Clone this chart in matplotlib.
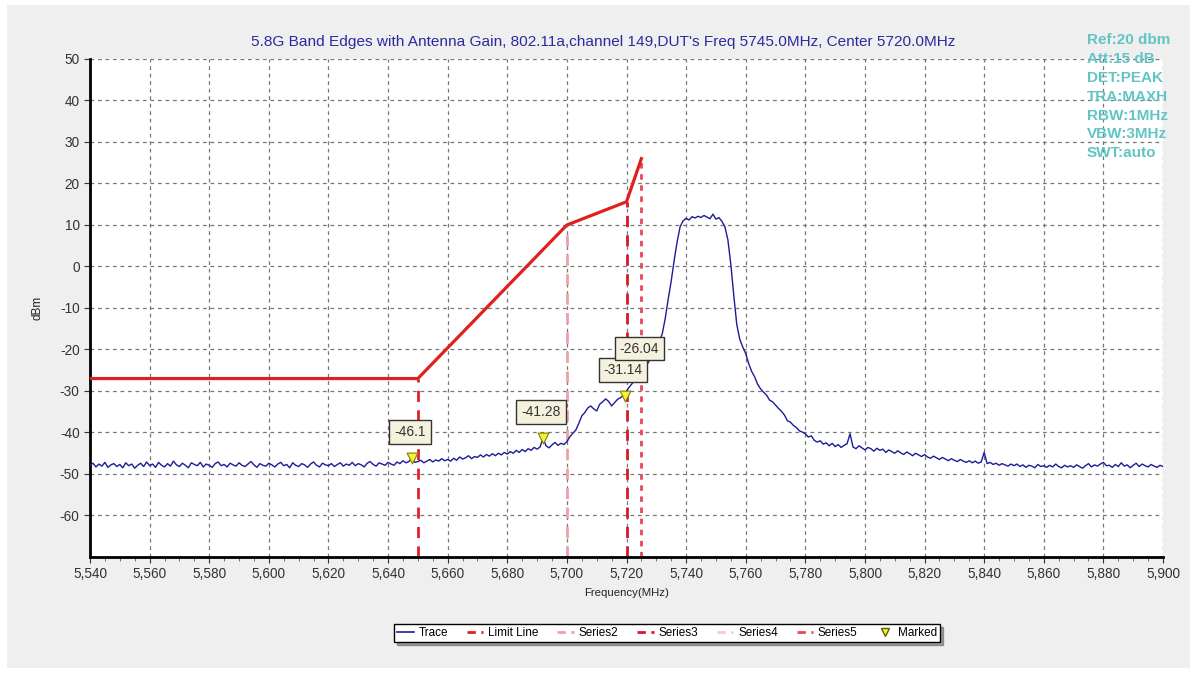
import numpy as np
import matplotlib
matplotlib.use('Agg')
import matplotlib.pyplot as plt
from matplotlib.lines import Line2D
from matplotlib.patches import Rectangle
from matplotlib.ticker import FuncFormatter, MultipleLocator

plt.rcParams['font.family'] = ['Liberation Sans', 'DejaVu Sans']
plt.rcParams['axes.unicode_minus'] = False

# spectrum trace, 1 MHz steps from 5540 to 5900 MHz
trace_start = 5540
trace_level = [
    -47.9, -47.4, -48.3, -47.6, -48.1, -47.2, -48.4, -47.8, -47.5, -48.2,
    -47.7, -48.5, -47.3, -48.0, -47.6, -48.6, -47.9, -47.4, -48.2, -47.1,
    -48.0, -47.6, -48.4, -47.2, -47.9, -48.3, -47.5, -48.1, -46.9, -47.8,
    -48.2, -47.4, -47.9, -48.5, -47.3, -47.7, -48.0, -47.2, -48.3, -47.6,
    -47.9, -48.4, -47.5, -47.1, -48.0, -47.7, -48.3, -47.4, -47.8, -48.1,
    -47.3, -47.9, -48.2, -47.6, -47.0, -47.8, -48.4, -47.5, -47.9, -48.1,
    -47.4, -47.8, -48.3, -47.6, -47.2, -48.0, -47.7, -48.5, -47.3, -47.9,
    -48.2, -47.5, -47.8, -48.4, -47.6, -47.1, -47.9, -48.3, -47.4, -47.8,
    -48.0, -47.5, -48.2, -47.7, -47.3, -48.1, -47.6, -47.9, -47.2, -48.0,
    -47.5, -47.8, -48.3, -47.4, -47.0, -47.7, -48.1, -47.3, -47.6, -47.9,
    -47.2, -47.6, -47.9, -47.1, -47.5, -46.8, -47.3, -47.0, -46.1, -47.2,
    -47.0, -46.7, -47.3, -46.9, -46.5, -47.1, -46.6, -46.9, -46.3, -46.8,
    -46.5, -46.9, -46.2, -46.7, -45.9, -46.4, -46.1, -45.6, -46.3, -45.8,
    -46.0, -45.4, -45.9, -45.3, -45.7, -45.1, -45.6, -45.0, -45.4, -44.8,
    -45.2, -44.6, -45.0, -44.3, -44.8, -44.1, -44.6, -43.9, -44.3, -43.6,
    -44.0, -43.5, -41.3, -43.2, -43.7, -43.0, -42.4, -43.1, -42.6, -42.9,
    -42.2, -41.0, -40.2, -39.4, -37.8, -36.0, -35.2, -34.1, -33.6, -34.3,
    -34.8, -33.2, -32.6, -31.9, -32.5, -33.6, -32.8, -32.0, -31.6, -31.1,
    -30.0, -29.0, -28.1, -27.3, -26.6, -26.0, -24.8, -23.5, -22.3, -21.0,
    -19.6, -18.0, -16.2, -12.5, -7.8, -3.5, 1.5, 6.0, 9.6, 11.0,
    11.6, 11.2, 12.0, 11.7, 12.1, 11.8, 12.3, 11.9, 11.5, 12.6,
    11.4, 11.8, 10.9, 9.6, 6.5, 0.5, -7.0, -14.0, -17.5, -19.4,
    -21.0, -23.4, -25.3, -26.6, -28.4, -29.5, -30.3, -31.0, -32.2, -32.6,
    -33.4, -34.2, -34.9, -35.8, -37.2, -37.5, -38.3, -38.8, -39.6, -39.9,
    -40.3, -41.1, -40.8, -41.9, -42.3, -42.0, -42.8, -42.5, -43.2, -42.6,
    -43.4, -42.9, -43.6, -43.1, -42.7, -40.3, -43.5, -43.9, -43.2, -43.7,
    -44.2, -43.6, -43.9, -44.5, -43.8, -44.3, -44.0, -44.8, -44.2, -44.6,
    -45.0, -44.4, -44.9, -45.3, -44.7, -45.1, -45.6, -45.0, -45.4, -45.8,
    -45.3, -45.9, -46.2, -45.7, -46.1, -46.5, -46.0, -46.4, -46.8, -46.3,
    -46.7, -47.0, -46.5, -46.9, -47.2, -46.8, -47.3, -46.9, -47.4, -47.1,
    -44.8, -47.5, -47.2, -47.7, -47.4, -47.9, -47.5, -47.8, -48.1, -47.6,
    -48.0, -47.6, -48.2, -47.8, -48.4, -47.9, -48.1, -48.5, -47.7, -48.2,
    -48.0, -48.4, -47.9, -48.3, -47.6, -48.2, -48.5, -47.9, -48.3, -48.0,
    -48.4, -47.8, -48.2, -48.6, -48.0, -47.5, -48.3, -47.8, -48.1, -47.6,
    -47.2, -48.0, -47.9, -48.4, -47.7, -48.2, -47.3, -48.1, -47.8, -48.5,
    -47.9, -47.4, -48.2, -47.6, -48.0, -48.3, -47.7, -48.1, -48.4, -47.9,
    -48.2,
]
trace_freq = trace_start + np.arange(len(trace_level))

# limit mask
limit_freq = [5540, 5650, 5700, 5720, 5725]
limit_level = [-27, -27, 10, 15.6, 26]

# vertical edge lines (freq, top level)
edge_freq = [5650, 5700, 5720, 5725]
edge_top = [-27, 10, 15.6, 26]

# markers
marker_freq = [5648, 5692, 5719.5, 5725]
marker_level = [-46.1, -41.28, -31.14, -26.04]
marker_text = ['-46.1', '-41.28', '-31.14', '-26.04']

info_lines = ['Ref:20 dbm', 'Att:15 dB', 'DET:PEAK', 'TRA:MAXH',
              'RBW:1MHz', 'VBW:3MHz', 'SWT:auto']

title = ("5.8G Band Edges with Antenna Gain, 802.11a,channel 149,"
         "DUT's Freq 5745.0MHz, Center 5720.0MHz")

fig = plt.figure(figsize=(11.98, 6.73), dpi=100, facecolor='white')
fig.patches.append(Rectangle((7 / 1198, 1 - 668 / 673), 1183 / 1198, 663 / 673,
                             transform=fig.transFigure, facecolor='#efefef',
                             edgecolor='none', zorder=-10))
ax = fig.add_axes([90 / 1198, 1 - 557 / 673, 1073 / 1198, 498 / 673])
ax.set_facecolor('white')

ax.set_xlim(5540, 5900)
ax.set_ylim(-70, 50)
ax.xaxis.set_major_locator(MultipleLocator(20))
ax.xaxis.set_minor_locator(MultipleLocator(5))
ax.set_yticks(np.arange(-60, 51, 10))
ax.xaxis.set_major_formatter(FuncFormatter(lambda v, p: f'{int(v):,}'))
ax.tick_params(axis='both', labelsize=9.8, colors='#333333', length=4)
ax.tick_params(axis='x', which='minor', length=3, color='#555555')
ax.grid(True, which='major', color='#777777', linestyle=(0, (3, 3)), linewidth=0.9)
for s in ['top', 'right']:
    ax.spines[s].set_visible(False)
for s in ['left', 'bottom']:
    ax.spines[s].set_linewidth(2)
    ax.spines[s].set_color('black')

# edges
edge_colors = ['#e02030', '#f0a0a8', '#d81828', '#e84858']
edge_styles = [(0, (4, 3)), (0, (4, 3)), (0, (4, 3)), (0, (2, 2))]
for f, top, c, ls in zip(edge_freq, edge_top, edge_colors, edge_styles):
    ax.plot([f, f], [-70, top], color=c, linestyle=ls, linewidth=2, zorder=2)

ax.plot(limit_freq, limit_level, color='#e02020', linewidth=2.3, zorder=3)
ax.plot(trace_freq, trace_level, color='#1c1c96', linewidth=1.0, zorder=4)

ax.scatter(marker_freq, marker_level, marker='v', s=60, color='#f5f03a',
           edgecolors='#808000', linewidths=0.8, zorder=5)
for f, lv, t in zip(marker_freq, marker_level, marker_text):
    ax.annotate(t, (f, lv), xytext=(-2, 19), textcoords='offset pixels',
                ha='center', va='bottom', fontsize=10, color='#333333', zorder=6,
                bbox=dict(boxstyle='square,pad=0.35', facecolor='#f4f2dc',
                          edgecolor='#333333', linewidth=1))

ax.set_xlabel('Frequency(MHz)', fontsize=8.2, color='#222222', labelpad=5)
ax.set_ylabel('dBm', fontsize=8.5, color='#222222', labelpad=12)

fig.text(603 / 1198, 1 - 42 / 673, title, ha='center', va='center',
         fontsize=11.1, color='#2b2ba0')

for i, line in enumerate(info_lines):
    fig.text(1087 / 1198, 1 - (40 + i * 18.9) / 673, line, ha='left', va='center',
             fontsize=11, fontweight='bold', color='#62c4c4')

handles = [
    Line2D([], [], color='#1c1c96', linewidth=1.2),
    Line2D([], [], color='#e02020', linestyle=(0, (3, 2)), linewidth=2),
    Line2D([], [], color='#f0a0a8', linestyle=(0, (3, 2)), linewidth=2),
    Line2D([], [], color='#d81828', linestyle=(0, (3, 2)), linewidth=2),
    Line2D([], [], color='#f6c8cc', linestyle=(0, (3, 2)), linewidth=2),
    Line2D([], [], color='#e84858', linestyle=(0, (3, 2)), linewidth=2),
    Line2D([], [], marker='v', color='#f5f03a', markeredgecolor='#606000',
           linestyle='none', markersize=6),
]
labels = ['Trace', 'Limit Line', 'Series2', 'Series3', 'Series4', 'Series5', 'Marked']
leg = fig.legend(handles, labels, loc='center', bbox_to_anchor=(667 / 1198, 1 - 633 / 673),
                 ncol=7, fontsize=8.5, frameon=True, fancybox=False, shadow=True,
                 handlelength=1.4, handletextpad=0.4, columnspacing=1.6,
                 borderpad=0.25)
leg.get_frame().set_edgecolor('black')
leg.get_frame().set_linewidth(1)

fig.savefig('out.png', dpi=100, facecolor=fig.get_facecolor())
